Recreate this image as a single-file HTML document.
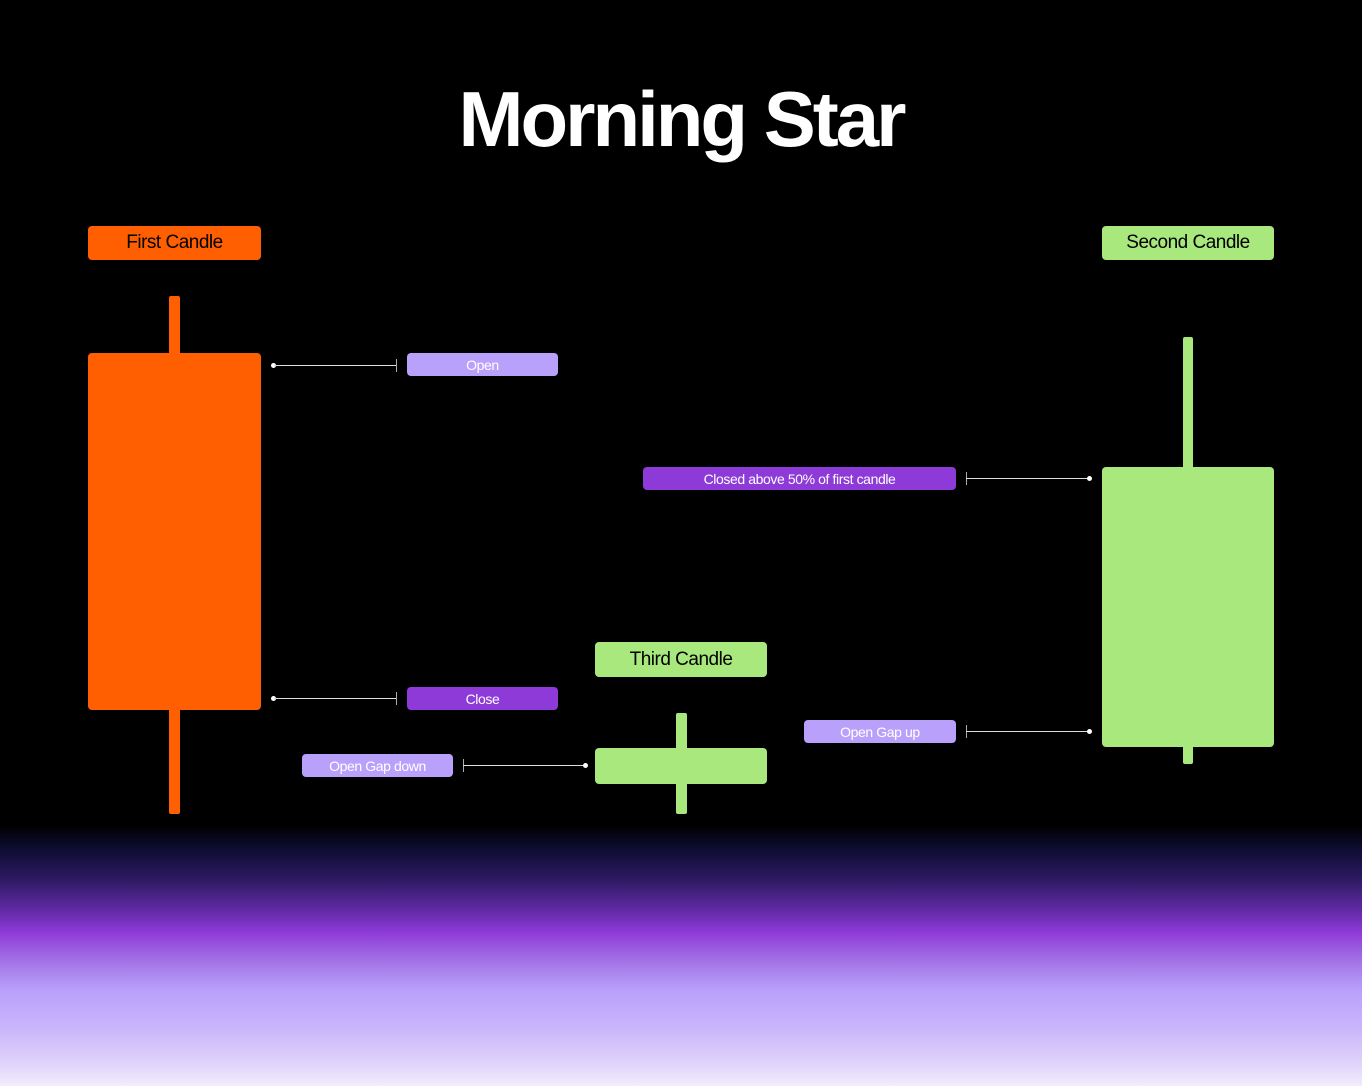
<!DOCTYPE html>
<html><head><meta charset="utf-8"><style>
*{margin:0;padding:0;box-sizing:border-box}
body{width:1362px;height:1086px;position:relative;overflow:hidden;background:#000;font-family:"Liberation Sans",sans-serif}
.bg{position:absolute;left:0;top:0;width:1362px;height:1086px;background:linear-gradient(180deg,#000 0px,#000 825px,#0c0c30 848px,#2e1a63 880px,#6a2db0 915px,#8e3ad8 932px,#a57ae8 965px,#b9a0fb 990px,#cbb6fb 1030px,#ddd0fb 1060px,#f2ecfc 1086px)}
.a{position:absolute}
.lbl{position:absolute;border-radius:4px;display:flex;align-items:center;justify-content:center;color:#000;font-size:19px;letter-spacing:-0.5px}
.tag{position:absolute;border-radius:4px;display:flex;align-items:center;justify-content:center;color:#fff;font-size:14px;letter-spacing:-0.4px}
.line{position:absolute;height:1px;background:#ddd}
.dot{position:absolute;width:5px;height:5px;border-radius:50%;background:#fff}
.tick{position:absolute;width:1px;height:13px;background:#aaa}
</style></head><body>
<div class="bg"></div>
<div class="a" style="left:0;top:74px;width:1362px;text-align:center;color:#fff;font-size:78px;font-weight:bold;letter-spacing:-3px">Morning Star</div>

<div class="lbl" style="left:88px;top:226px;width:173px;height:34px;background:#ff5f00">First Candle</div>
<div class="lbl" style="left:1102px;top:226px;width:172px;height:34px;background:#a8e87c">Second Candle</div>
<div class="lbl" style="left:595px;top:642px;width:172px;height:35px;background:#a8e87c">Third Candle</div>

<div class="a" style="left:169px;top:296px;width:11px;height:518px;background:#ff5f00;border-radius:2px"></div>
<div class="a" style="left:88px;top:353px;width:173px;height:357px;background:#ff5f00;border-radius:4px"></div>
<div class="a" style="left:1183px;top:337px;width:10px;height:427px;background:#a8e87c;border-radius:2px"></div>
<div class="a" style="left:1102px;top:467px;width:172px;height:280px;background:#a8e87c;border-radius:4px"></div>
<div class="a" style="left:676px;top:713px;width:11px;height:101px;background:#a8e87c;border-radius:2px"></div>
<div class="a" style="left:595px;top:748px;width:172px;height:36px;background:#a8e87c;border-radius:4px"></div>

<div class="dot" style="left:271px;top:363px"></div><div class="line" style="left:274px;top:365px;width:122px"></div><div class="tick" style="left:396px;top:359px"></div>
<div class="tag" style="left:407px;top:353px;width:151px;height:23px;background:#b9a0fb">Open</div>
<div class="dot" style="left:271px;top:696px"></div><div class="line" style="left:274px;top:698px;width:122px"></div><div class="tick" style="left:396px;top:692px"></div>
<div class="tag" style="left:407px;top:687px;width:151px;height:23px;background:#8e3ad8">Close</div>
<div class="tag" style="left:302px;top:754px;width:151px;height:23px;background:#b9a0fb">Open Gap down</div>
<div class="tick" style="left:463px;top:759px"></div><div class="line" style="left:463px;top:765px;width:122px"></div><div class="dot" style="left:583px;top:763px"></div>
<div class="tag" style="left:643px;top:467px;width:313px;height:23px;background:#8e3ad8">Closed above 50% of first candle</div>
<div class="tick" style="left:966px;top:472px"></div><div class="line" style="left:966px;top:478px;width:122px"></div><div class="dot" style="left:1087px;top:476px"></div>
<div class="tag" style="left:804px;top:720px;width:152px;height:23px;background:#b9a0fb">Open Gap up</div>
<div class="tick" style="left:966px;top:725px"></div><div class="line" style="left:966px;top:731px;width:122px"></div><div class="dot" style="left:1087px;top:729px"></div>
</body></html>
